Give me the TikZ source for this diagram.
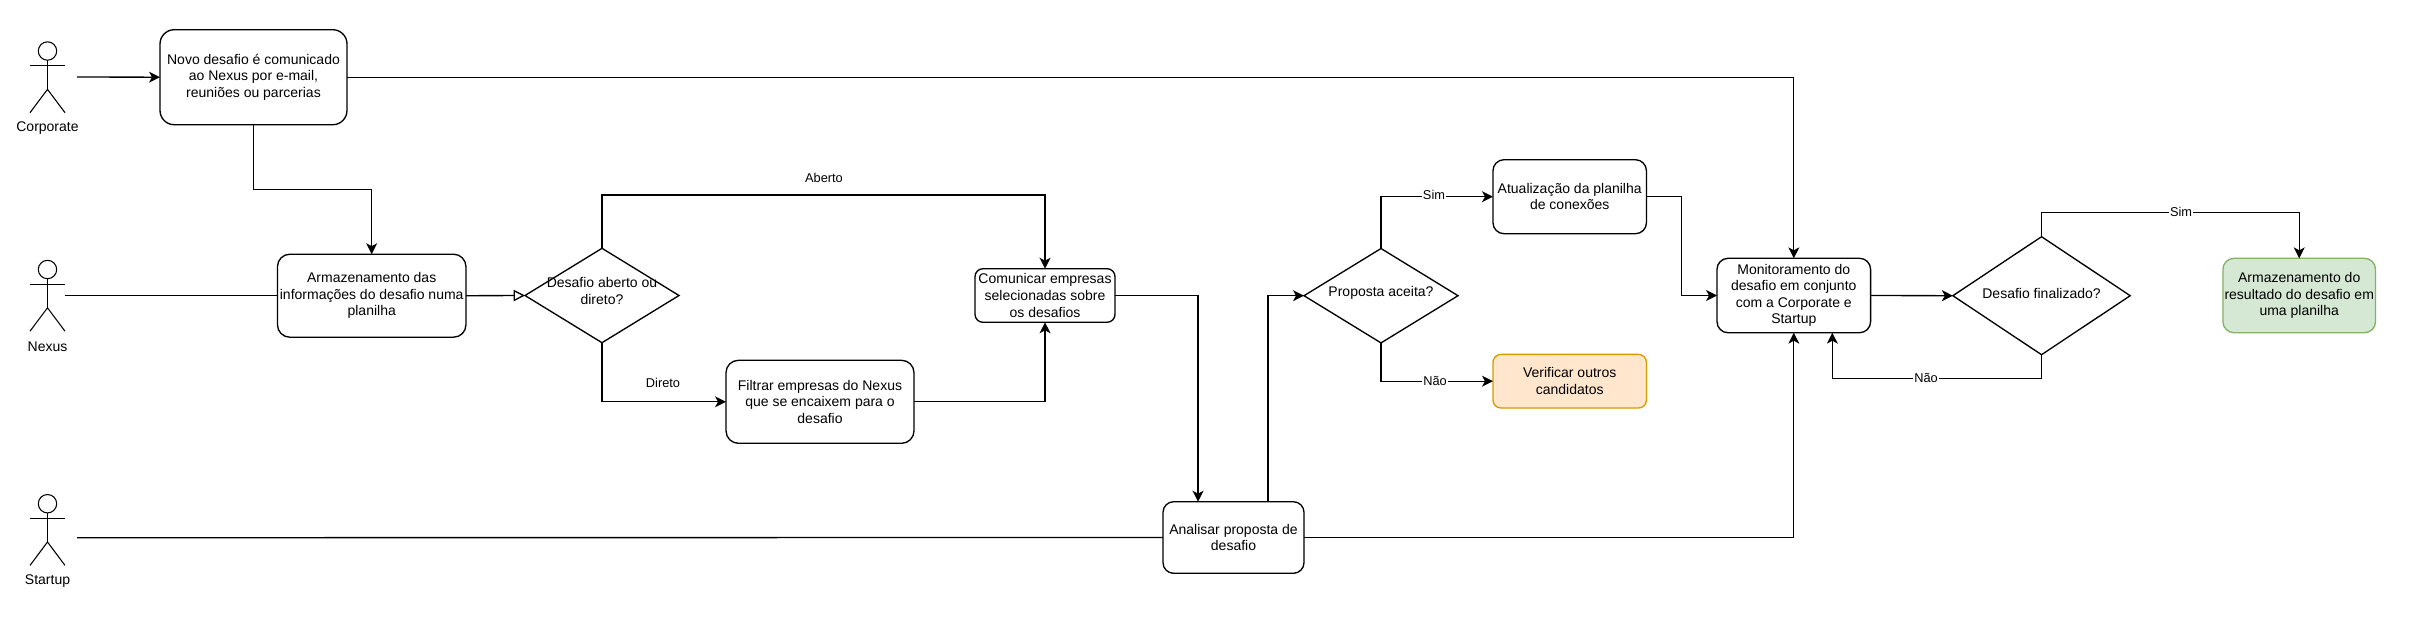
\documentclass[tikz,border=0pt]{standalone}
\usepackage{fontspec}
\setmainfont{Liberation Sans}
\usetikzlibrary{arrows.meta,shapes.geometric,calc}
\definecolor{warnfill}{HTML}{FFE6CC}
\definecolor{warndraw}{HTML}{D79B00}
\definecolor{okfill}{HTML}{D5E8D4}
\definecolor{okdraw}{HTML}{82B366}
\tikzset{
  basefont/.style={font=\fontsize{10.5pt}{12.4pt}\selectfont},
  procbox/.style={draw=black,fill=white,line width=1pt,align=center,inner sep=0pt,outer sep=0pt,basefont,
    minimum width=#1},
  decision/.style={draw=black,fill=white,line width=1pt,diamond,inner sep=0pt,outer sep=0pt},
  conn/.style={draw=black,line width=1pt,-{Stealth[length=8.2pt,width=8.2pt,inset=2.2pt]}},
  plainconn/.style={draw=black,line width=1pt},
  openconn/.style={draw=black,line width=1pt,-{Triangle[open,fill=white,length=8.6pt,width=8.6pt]}},
  edgetext/.style={font=\fontsize{9.6pt}{11pt}\selectfont,inner sep=0.6pt,outer sep=0pt},
  edgecut/.style={edgetext,fill=white},
  actorfig/.pic={
    \draw[line width=0.8pt] (0,0) ellipse [x radius=9.2,y radius=9.2];
    \draw[line width=0.8pt] (-17.5,14.7) -- (17.5,14.7);
    \draw[line width=0.8pt] (0,9.2) -- (0,38.3);
    \draw[line width=0.8pt] (-17.5,61.7) -- (0,38.3) -- (17.5,61.7);
  }
}
\begin{document}
\begin{tikzpicture}[x=0.75pt,y=-0.75pt]
\useasboundingbox (0,0) rectangle (2411,622);
\fill[white] (0,0) rectangle (2411,622);

% actors
\pic at (47.5,51) {actorfig};
\pic at (47.5,269.5) {actorfig};
\pic at (47.5,503.7) {actorfig};
\node[basefont,inner sep=0pt] (corpLabel) at (47.5,128.5) {Corporate};
\node[basefont,inner sep=0pt] (nexusLabel) at (47.5,346.5) {Nexus};
\node[basefont,inner sep=0pt] (startLabel) at (47.5,581.5) {Startup};
\coordinate (corpOut) at (77,77);
\coordinate (nexusOut) at (65,295.7);
\coordinate (startOut) at (77,537.7);

% boxes
\node[procbox=187pt*0.75,minimum height=71.25pt,rounded corners=10.7pt] (novo) at (253.5,77.2)
  {Novo desafio é comunicado\\ao Nexus por e-mail,\\reuniões ou parcerias};
\node[procbox=188.5pt*0.75,minimum height=62.25pt,rounded corners=9.3pt] (arm) at (371.7,295.7)
  {Armazenamento das\\informações do desafio numa\\planilha};
\node[procbox=188pt*0.75,minimum height=62.25pt,rounded corners=9.3pt] (filtrar) at (820,401.8)
  {Filtrar empresas do Nexus\\que se encaixem para o\\desafio};
\node[procbox=140pt*0.75,minimum height=40.2pt,rounded corners=6pt] (comunicar) at (1045,295.5)
  {Comunicar empresas\\selecionadas sobre\\os desafios};
\node[procbox=141pt*0.75,minimum height=53.7pt,rounded corners=8pt] (analisar) at (1233.5,537.5)
  {Analisar proposta de\\desafio};
\node[procbox=153.5pt*0.75,minimum height=55.5pt,rounded corners=8.3pt] (atual) at (1569.7,196.7)
  {Atualização da planilha\\de conexões};
\node[procbox=153.5pt*0.75,minimum height=40.2pt,rounded corners=6pt,draw=warndraw,fill=warnfill] (verificar) at (1569.7,381.2)
  {Verificar outros\\candidatos};
\node[procbox=153.6pt*0.75,minimum height=55.8pt,rounded corners=8.3pt] (monitor) at (1793.8,295.5)
  {Monitoramento do\\desafio em conjunto\\com a Corporate e\\Startup};
\node[procbox=152.6pt*0.75,minimum height=55.8pt,rounded corners=8.3pt,draw=okdraw,fill=okfill] (resultado) at (2299.2,295.5)
  {Armazenamento do\\resultado do desafio em\\uma planilha};

% decisions
\node[decision,aspect=1.63,minimum width=115.5pt,minimum height=70.8pt,
  label={[basefont,align=center,inner sep=0pt,yshift=3.2pt]center:{Desafio aberto ou\\direto?}}] (dAberto) at (602,295.5) {};
\node[decision,aspect=1.63,minimum width=115.5pt,minimum height=70.8pt,
  label={[basefont,inner sep=0pt,yshift=2pt]center:{Proposta aceita?}}] (dProposta) at (1381,295.7) {};
\node[decision,aspect=1.5,minimum width=133pt,minimum height=88.5pt,
  label={[basefont,inner sep=0pt,yshift=2pt]center:{Desafio finalizado?}}] (dFinal) at (2041.5,295.7) {};

% helper coordinates
\coordinate (analisarTop) at ($(analisar.north)+(34.5,0)$);
\coordinate (analisarIn) at ($(analisar.north)+(-35.5,0)$);
\coordinate (monitorNao) at ($(monitor.south)+(38.5,0)$);

% connectors
\draw[conn] (corpOut) -- (novo.west);
\draw[conn] (novo.east) -| (monitor.north);
\draw[conn] (novo.south) |- ($(novo.south)+(0,64.6)$) -| (arm.north);
\draw[plainconn] (nexusOut) -- (arm.west);
\draw[openconn] (arm.east) -- (dAberto.west);
\draw[conn] (dAberto.north) |- ($(dAberto.north)+(0,-53.3)$) -| (comunicar.north);
\draw[conn] (dAberto.south) |- (filtrar.west);
\draw[conn] (filtrar.east) -| (comunicar.south);
\draw[conn] (comunicar.east) -| (analisarIn);
\draw[plainconn] (startOut) -- (analisar.west);
\draw[conn] (analisar.east) -| (monitor.south);
\draw[conn] (analisarTop) |- (dProposta.west);
\draw[conn] (dProposta.north) |- (atual.west);
\draw[conn] (dProposta.south) |- (verificar.west);
\draw[conn] (atual.east) -| ($(monitor.west)+(-35.3,0)$) -- (monitor.west);
\draw[conn] (monitor.east) -- (dFinal.west);
\draw[conn] (dFinal.north) |- ($(dFinal.north)+(0,-24)$) -| (resultado.north);
\draw[conn] (dFinal.south) |- ($(dFinal.south)+(0,23.6)$) -| (monitorNao);

% edge labels
\node[edgetext] (lAberto) at (824,177.7) {Aberto};
\node[edgetext] (lDireto) at (663,383) {Direto};
\node[edgecut] (lSim1) at (1434,195) {Sim};
\node[edgecut] (lNao1) at (1435,381) {Não};
\node[edgecut] (lSim2) at (2181,212) {Sim};
\node[edgecut] (lNao2) at (1926,378) {Não};
\end{tikzpicture}
\end{document}
